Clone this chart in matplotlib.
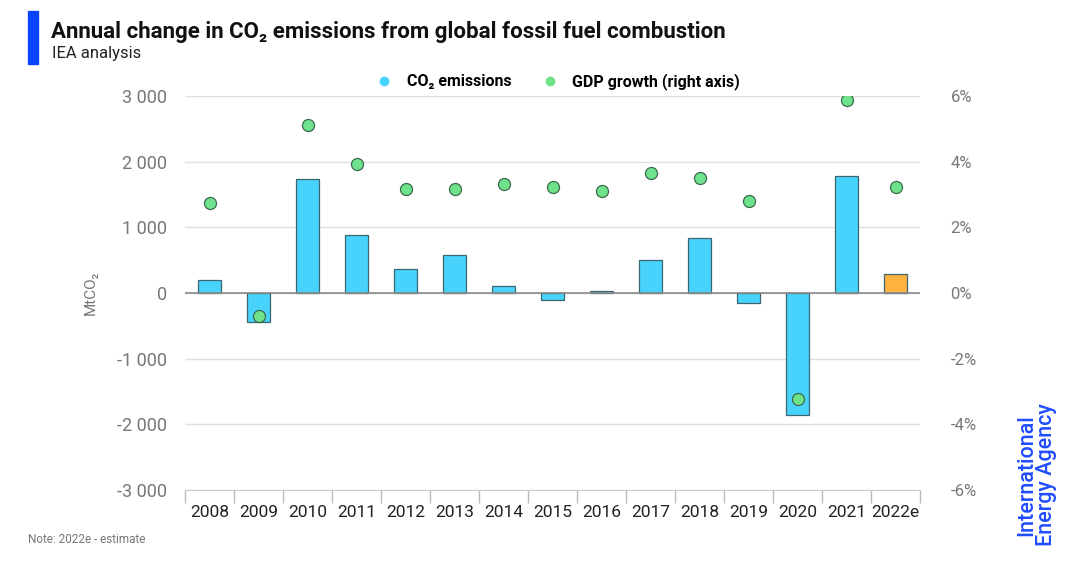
import matplotlib.pyplot as plt
from matplotlib.patches import Rectangle
from matplotlib.lines import Line2D
import numpy as np

years = ['2008', '2009', '2010', '2011', '2012', '2013', '2014', '2015',
         '2016', '2017', '2018', '2019', '2020', '2021', '2022e']
co2_change = [205, -440, 1730, 880, 360, 580, 100, -105, 25, 505, 835,
              -145, -1855, 1780, 290]
gdp_growth = [2.74, -0.71, 5.13, 3.93, 3.18, 3.18, 3.31, 3.24, 3.11, 3.65,
              3.51, 2.79, -3.23, 5.87, 3.22]
estimate_years = ['2022e']

plt.rcParams['font.family'] = ['Roboto', 'DejaVu Sans']

cyan = '#48d3fd'
orange = '#ffb440'
green = '#6ee38c'
grey = '#777777'

fig = plt.figure(figsize=(10.8, 5.74), dpi=100)
ax = fig.add_axes([0.1713, 0.1463, 0.6806, 0.6865])
ax2 = ax.twinx()

x = np.arange(len(years))
colors = [orange if y in estimate_years else cyan for y in years]
ax.bar(x, co2_change, width=0.47, color=colors, edgecolor='#3d6470',
       linewidth=0.9, zorder=3)

ax.set_ylim(-3000, 3000)
ax.set_xlim(-0.5, len(years) - 0.5)
ax.set_yticks(np.arange(-3000, 3001, 1000))
ax.set_yticklabels([f'{v:,}'.replace(',', ' ') for v in range(-3000, 3001, 1000)])
ax.grid(axis='y', color='#e0e0e0', linewidth=1, zorder=0)
ax.axhline(0, color='#8a8a8a', linewidth=1.2, zorder=4)

# category ticks at boundaries
ax.set_xticks(x)
ax.set_xticklabels(years)
ax.set_xticks(np.arange(-0.5, len(years)), minor=True)
ax.tick_params(axis='x', which='major', length=0, pad=11, labelsize=12.5,
               labelcolor='#222222')
ax.tick_params(axis='x', which='minor', length=9, color='#bbbbbb', width=1)
ax.tick_params(axis='y', length=0, pad=13, labelsize=13, labelcolor=grey)
ax.set_ylabel('MtCO₂', color=grey, fontsize=11, labelpad=14)

for spine in ['top', 'right', 'left']:
    ax.spines[spine].set_visible(False)
    ax2.spines[spine].set_visible(False)
ax.spines['bottom'].set_color('#cccccc')
ax2.spines['bottom'].set_visible(False)

ax2.scatter(x, gdp_growth, s=75, color=green, edgecolor='#3b6b4a',
            linewidth=0.9, zorder=5)
ax2.set_ylim(-6, 6)
ax2.set_yticks(np.arange(-6, 7, 2))
ax2.set_yticklabels([f'{v}%' for v in range(-6, 7, 2)])
ax2.tick_params(axis='y', length=0, pad=22, labelsize=12, labelcolor=grey)
ax.set_zorder(ax2.get_zorder() - 1)
ax.patch.set_visible(False)
ax2.patch.set_visible(False)

# legend
handles = [Line2D([], [], marker='o', linestyle='', color=cyan, markersize=6),
           Line2D([], [], marker='o', linestyle='', color=green, markersize=6)]
fig.legend(handles, ['CO₂ emissions', 'GDP growth (right axis)'],
           loc='center', bbox_to_anchor=(0.513, 0.858), ncol=2, frameon=False,
           handletextpad=0.4, columnspacing=1.4,
           prop={'weight': 'bold', 'size': 11.5})

# title block
fig.patches.append(Rectangle((0.026, 0.888), 0.009, 0.092, transform=fig.transFigure,
                             color='#0b44ff'))
fig.text(0.047, 0.944, 'Annual change in CO₂ emissions from global fossil fuel combustion',
         fontsize=16, weight='bold', va='center', color='#111111')
fig.text(0.048, 0.907, 'IEA analysis', fontsize=12, va='center', color='#222222')

fig.text(0.026, 0.06, 'Note: 2022e - estimate', fontsize=8.5, color=grey, va='center')

fig.text(0.96, 0.048, 'International\nEnergy Agency', rotation=90, color='#1f4cff',
         fontsize=15.5, weight='medium', ha='center', va='bottom', linespacing=0.95)

fig.savefig('out.png', dpi=100)
